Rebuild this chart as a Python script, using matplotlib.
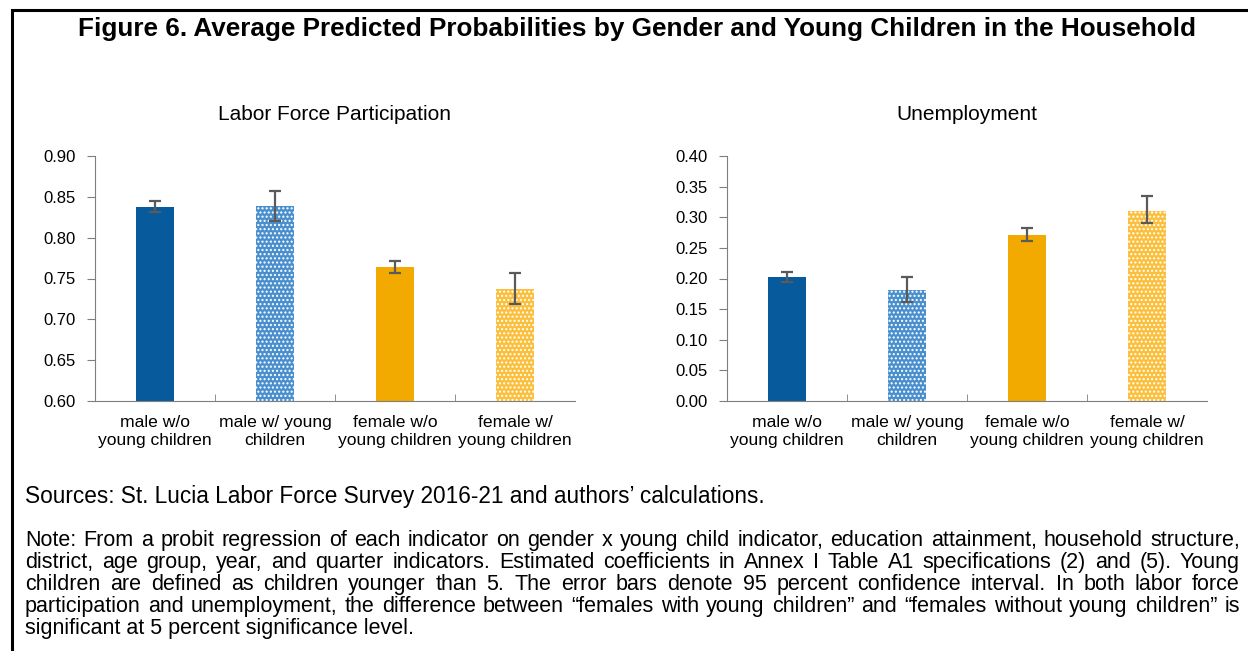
import numpy as np
import matplotlib.pyplot as plt
from matplotlib.patches import Rectangle

plt.rcParams['font.family'] = ['Liberation Sans', 'DejaVu Sans']
plt.rcParams['hatch.linewidth'] = 1.0

categories = ['male w/o\nyoung children', 'male w/ young\nchildren',
              'female w/o\nyoung children', 'female w/\nyoung children']

lfp = [0.838, 0.839, 0.764, 0.737]
lfp_lo = [0.832, 0.821, 0.757, 0.719]
lfp_hi = [0.845, 0.857, 0.772, 0.757]

unemp = [0.202, 0.181, 0.271, 0.311]
unemp_lo = [0.194, 0.161, 0.262, 0.290]
unemp_hi = [0.211, 0.202, 0.282, 0.334]

W, H = 1248, 651
fig = plt.figure(figsize=(W / 100, H / 100), dpi=100)

def px(x, y):
    return x / W, 1 - y / H

solid = ['#075a9b', None, '#f2a900', None]
patt = [None, '#4a8fcd', None, '#fbbf3c']


def draw_panel(ax, vals, lo, hi, ylim, yticks, title):
    x = np.arange(len(vals))
    for i, v in enumerate(vals):
        if solid[i]:
            ax.bar(x[i], v - ylim[0], bottom=ylim[0], width=0.31,
                   color=solid[i], lw=0)
        else:
            ax.bar(x[i], v - ylim[0], bottom=ylim[0], width=0.31,
                   facecolor=patt[i], edgecolor='white', hatch='....', lw=0)
    err = [np.array(vals) - np.array(lo), np.array(hi) - np.array(vals)]
    ax.errorbar(x, vals, yerr=err, fmt='none', ecolor='#5a5a5a',
                elinewidth=1.6, capsize=4, capthick=1.6)
    ax.set_xlim(-0.5, len(vals) - 0.5)
    ax.set_ylim(*ylim)
    ax.set_yticks(yticks)
    ax.set_yticklabels([f'{t:.2f}' for t in yticks], fontsize=12)
    ax.set_xticks(x)
    ax.set_xticklabels(categories, fontsize=12.6, linespacing=1.3)
    ax.tick_params(axis='x', length=0, pad=10)
    ax.set_xticks([0.5, 1.5, 2.5], minor=True)
    ax.tick_params(axis='x', which='minor', direction='in', length=5,
                   color='#7f7f7f')
    ax.tick_params(axis='y', direction='out', length=6, color='#7f7f7f',
                   pad=8)
    for s in ('top', 'right'):
        ax.spines[s].set_visible(False)
    for s in ('left', 'bottom'):
        ax.spines[s].set_color('#7f7f7f')
    ax.text(0.5, 1.0 + 42 / 245, title, transform=ax.transAxes,
            ha='center', va='center', fontsize=15)


axL = fig.add_axes([95 / W, 1 - 401 / H, 480 / W, 245 / H])
axR = fig.add_axes([727 / W, 1 - 401 / H, 480 / W, 245 / H])

draw_panel(axL, lfp, lfp_lo, lfp_hi, (0.60, 0.90),
           np.arange(0.60, 0.901, 0.05), 'Labor Force Participation')
draw_panel(axR, unemp, unemp_lo, unemp_hi, (0.0, 0.40),
           np.arange(0.0, 0.401, 0.05), 'Unemployment')

# frame around the whole figure
fig.patches.append(Rectangle(px(12, 700), (W + 20) / W, 690 / H,
                             transform=fig.transFigure, fill=False,
                             lw=2.2, ec='black'))

fig.text(*px(637, 29), 'Figure 6. Average Predicted Probabilities by Gender '
         'and Young Children in the Household', ha='center', va='center',
         fontsize=18.8, fontweight='bold')

fig.text(*px(25, 497), "Sources: St. Lucia Labor Force Survey 2016-21 and "
         "authors\u2019 calculations.", ha='left', va='center', fontsize=16.3)

notes = [
    'Note: From a probit regression of each indicator on gender x young child '
    'indicator, education attainment, household structure,',
    'district, age group, year, and quarter indicators. Estimated coefficients '
    'in Annex I Table A1 specifications (2) and (5). Young',
    'children are defined as children younger than 5. The error bars denote '
    '95 percent confidence interval. In both labor force',
    'participation and unemployment, the difference between \u201cfemales with '
    'young children\u201d and \u201cfemales without young children\u201d is',
    'significant at 5 percent significance level.',
]

# justified note lines (last line left-aligned), words on a common baseline
renderer = fig.canvas.get_renderer()
x0, x1 = 25, 1240
for i, line in enumerate(notes):
    yb = px(0, 546 + 22 * i)[1]
    if i == len(notes) - 1:
        fig.text(x0 / W, yb, line, ha='left', va='baseline', fontsize=15.5)
        continue
    words = line.split(' ')
    texts = [fig.text(0, yb, w, ha='left', va='baseline', fontsize=15.5)
             for w in words]
    widths = [t.get_window_extent(renderer).width for t in texts]
    gap = (x1 - x0 - sum(widths)) / (len(words) - 1)
    xpos = x0
    for t, w in zip(texts, widths):
        t.set_x(xpos / W)
        xpos += w + gap

fig.savefig('out.png', dpi=100)
